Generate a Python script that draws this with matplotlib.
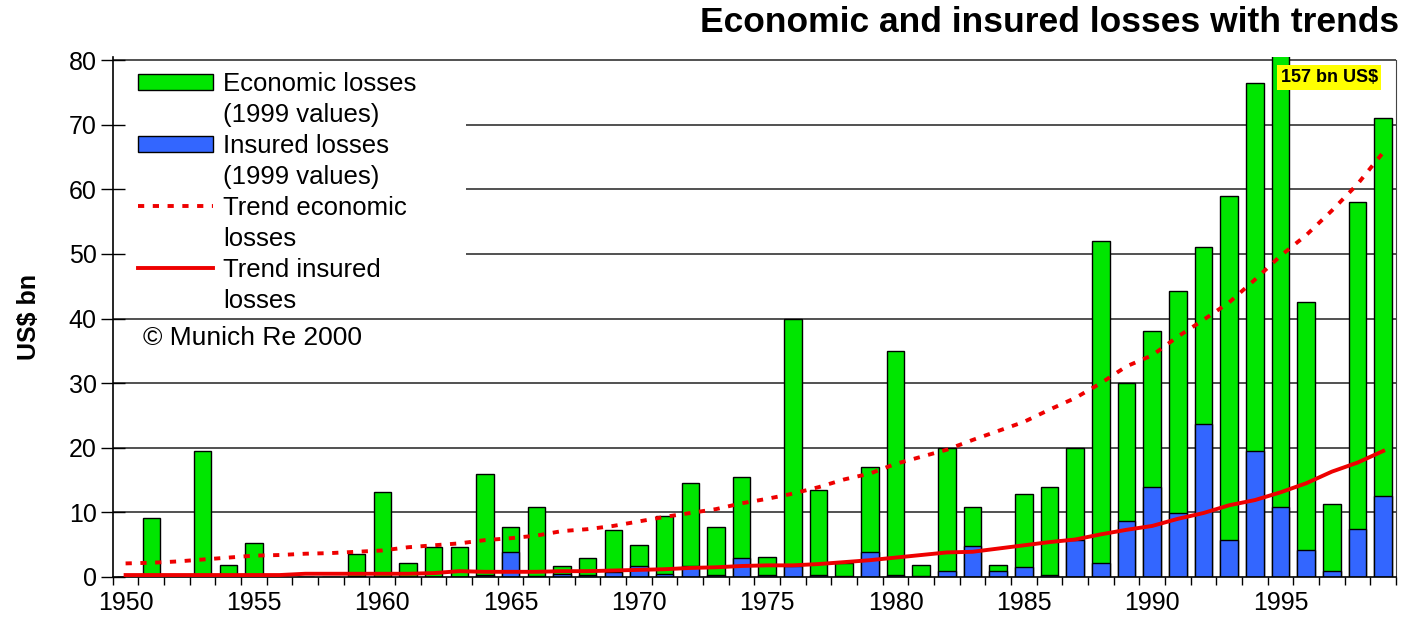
import matplotlib
matplotlib.use("Agg")
import matplotlib.pyplot as plt
from matplotlib.patches import Rectangle, Patch
from matplotlib.lines import Line2D

years = list(range(1950, 2000))

economic = [0, 9.2, 0, 19.5, 1.9, 5.3, 0, 0, 0, 3.6,
            13.1, 2.2, 4.7, 4.7, 15.9, 7.8, 10.8, 1.7, 3.0, 7.3,
            4.9, 9.4, 14.6, 7.8, 15.4, 3.1, 39.9, 13.4, 2.2, 17.0,
            35.0, 1.9, 20.0, 10.8, 1.9, 12.9, 14.0, 20.0, 52.0, 30.0,
            38.0, 44.3, 51.1, 59.0, 76.4, 157, 42.6, 11.3, 58.1, 71.1]

insured = [0, 0, 0, 0, 0, 0, 0, 0, 0, 0.2,
           0, 0, 0, 0, 0.3, 3.8, 0.2, 0.4, 0.3, 0.8,
           1.7, 0.4, 1.7, 0.3, 3.0, 0.3, 1.7, 0.3, 0.2, 3.8,
           0.3, 0.2, 0.9, 4.8, 0.9, 1.6, 0.3, 5.8, 2.2, 8.7,
           14.0, 9.9, 23.7, 5.7, 19.5, 10.8, 4.1, 0.9, 7.4, 12.5]

trend_economic = [2.1, 2.2, 2.4, 2.7, 3.0, 3.3, 3.4, 3.6, 3.7, 3.9,
                  4.1, 4.6, 4.9, 5.2, 5.7, 6.0, 6.4, 7.1, 7.4, 7.9,
                  8.6, 9.3, 9.9, 10.5, 11.4, 12.1, 12.9, 13.9, 15.1, 16.0,
                  17.5, 18.6, 19.7, 21.2, 22.6, 24.0, 25.9, 27.7, 30.0, 32.6,
                  34.3, 37.2, 39.8, 42.5, 46.0, 49.7, 52.9, 56.7, 60.8, 65.7]

trend_insured = [0.3, 0.3, 0.3, 0.3, 0.3, 0.3, 0.3, 0.5, 0.5, 0.5,
                 0.5, 0.5, 0.6, 0.9, 0.8, 0.8, 0.8, 0.9, 0.9, 1.0,
                 1.1, 1.2, 1.4, 1.5, 1.7, 1.8, 1.8, 2.0, 2.3, 2.6,
                 3.0, 3.4, 3.8, 3.9, 4.4, 4.9, 5.4, 5.8, 6.6, 7.3,
                 7.9, 9.0, 9.9, 11.1, 11.9, 13.1, 14.5, 16.3, 17.7, 19.5]

yticks = [0, 10, 20, 30, 40, 50, 60, 70, 80]
xlabels = [1950, 1955, 1960, 1965, 1970, 1975, 1980, 1985, 1990, 1995]

green = "#00e600"
blue = "#3366ff"
red = "#ee0000"

plt.rcParams['font.family'] = ['Liberation Sans', 'DejaVu Sans']

fig = plt.figure(figsize=(14.06, 6.29), dpi=100)
ax = fig.add_axes([0.0802, 0.0827, 0.9127, 0.827])

# horizontal grid lines drawn by hand so the legend box can hide them
for v in yticks[1:]:
    ax.axhline(v, color="#222222", lw=1.1, zorder=0.5)

ax.add_patch(Rectangle((1949.5, 40.4), 13.75, 39.2, facecolor="white",
                       edgecolor="none", zorder=0.8))

ax.bar(years, economic, width=0.68, color=green, edgecolor="black", lw=1, zorder=2)
ax.bar(years, insured, width=0.68, color=blue, edgecolor="black", lw=1, zorder=2.1)

ax.plot(years, trend_economic, color=red, lw=2.8, linestyle=(0, (1.6, 2.2)), zorder=3)
ax.plot(years, trend_insured, color=red, lw=2.8, zorder=3)

ax.set_xlim(1949.5, 1999.5)
ax.set_ylim(0, 80.5)

ax.set_yticks(yticks)
ax.tick_params(axis="y", direction="inout", length=17, width=1, labelsize=18, pad=3)
ax.set_xticks(xlabels)
ax.set_xticks([y - 0.5 for y in years] + [1999.5], minor=True)
ax.tick_params(axis="x", which="major", length=0, labelsize=18, pad=10)
ax.tick_params(axis="x", which="minor", direction="out", length=6, width=1)

ax.spines["top"].set_visible(False)
ax.spines["right"].set_bounds(0, 80)
ax.spines["right"].set_color("#444444")
ax.spines["left"].set_linewidth(1.2)
ax.spines["bottom"].set_linewidth(1.2)

ax.set_ylabel("US$ bn", fontsize=18, fontweight="bold", labelpad=20)

# each legend label wraps onto a second row with an empty handle,
# so the key sits next to the first line as in the original
blank = Patch(facecolor="none", edgecolor="none")
handles = [
    Patch(facecolor=green, edgecolor="black", lw=1), blank,
    Patch(facecolor=blue, edgecolor="black", lw=1), blank,
    Line2D([], [], color=red, lw=2.8, linestyle=(0, (1.6, 2.2))), blank,
    Line2D([], [], color=red, lw=2.8), blank,
]
labels = ["Economic losses", "(1999 values)", "Insured losses", "(1999 values)",
          "Trend economic", "losses", "Trend insured", "losses"]
leg = ax.legend(handles, labels, loc="upper left", bbox_to_anchor=(0.012, 0.99),
                frameon=False, fontsize=18.5, handlelength=2.9, handleheight=0.6,
                handletextpad=0.4, labelspacing=0.27, borderaxespad=0)
leg.set_zorder(5)

fig.text(143 / 1406, 1 - 338 / 629, "\u00a9 Munich Re 2000", fontsize=19,
         ha="left", va="center")

ax.text(1996.9, 77.3, f"{economic[years.index(1995)]} bn US$", fontsize=13,
        fontweight="bold", ha="center", va="center", zorder=6,
        bbox=dict(boxstyle="square,pad=0.2", facecolor="#ffff00", edgecolor="none"))

fig.text(0.995, 1 - 22 / 629, "Economic and insured losses with trends",
         fontsize=25.5, fontweight="bold", ha="right", va="center")

fig.savefig("out.png", dpi=100)
